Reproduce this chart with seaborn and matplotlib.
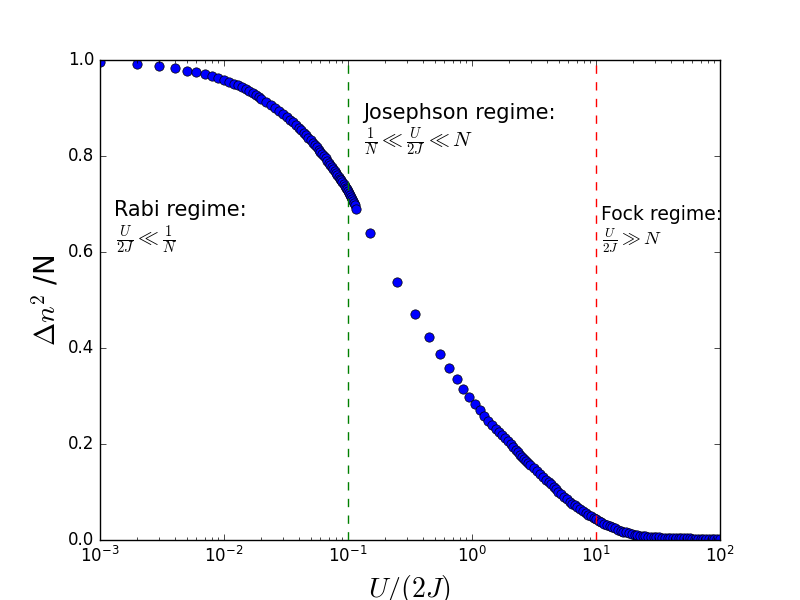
import matplotlib
matplotlib.use('Agg')
import matplotlib.pyplot as plt
import seaborn as sns
import pandas as pd

# small U/2J sweep (fine grid)
x_small = [0.001, 0.002, 0.003, 0.004, 0.005, 0.006, 0.007, 0.008, 0.009, 0.010,
           0.011, 0.012, 0.013, 0.014, 0.015, 0.016, 0.017, 0.018, 0.019, 0.020,
           0.022, 0.024, 0.026, 0.028, 0.030, 0.032, 0.034, 0.036, 0.038, 0.040,
           0.042, 0.044, 0.046, 0.048, 0.050, 0.052, 0.054, 0.056, 0.058, 0.060,
           0.062, 0.064, 0.066, 0.068, 0.070, 0.072, 0.074, 0.076, 0.078, 0.080,
           0.082, 0.084, 0.086, 0.088, 0.090, 0.092, 0.094, 0.096, 0.098, 0.100,
           0.102, 0.104, 0.106, 0.108, 0.110, 0.112, 0.114, 0.116]
y_small = [0.996, 0.991, 0.987, 0.983, 0.978, 0.974, 0.970, 0.966, 0.963, 0.959,
           0.955, 0.951, 0.947, 0.943, 0.939, 0.935, 0.931, 0.927, 0.923, 0.919,
           0.913, 0.906, 0.900, 0.893, 0.887, 0.882, 0.876, 0.870, 0.865, 0.859,
           0.854, 0.848, 0.843, 0.838, 0.833, 0.828, 0.823, 0.818, 0.813, 0.808,
           0.804, 0.799, 0.795, 0.790, 0.786, 0.782, 0.777, 0.773, 0.769, 0.764,
           0.760, 0.756, 0.753, 0.749, 0.745, 0.742, 0.738, 0.734, 0.731, 0.727,
           0.723, 0.719, 0.715, 0.711, 0.707, 0.702, 0.697, 0.690]

# large U/2J sweep (coarse grid)
x_large = [0.15, 0.25, 0.35, 0.45, 0.55, 0.65, 0.75, 0.85, 0.95, 1.05,
           1.15, 1.25, 1.35, 1.45, 1.55, 1.65, 1.75, 1.85, 1.95, 2.05,
           2.15, 2.25, 2.35, 2.45, 2.55, 2.65, 2.75, 2.85, 2.95, 3.15,
           3.35, 3.55, 3.75, 3.95, 4.15, 4.35, 4.55, 4.75, 4.95, 5.25,
           5.55, 5.85, 6.15, 6.45, 6.75, 7.05, 7.45, 7.85, 8.25, 8.65,
           9.05, 9.55, 10.05, 10.55, 11.05, 11.65, 12.25, 12.85, 13.55, 14.25,
           15.05, 15.85, 16.65, 17.55, 18.45, 19.45, 20.45, 21.55, 22.65, 23.85,
           25.05, 26.35, 27.75, 29.25, 30.75, 32.35, 34.05, 35.85, 37.75, 39.75,
           41.85, 44.05, 46.35, 48.75, 51.35, 54.05, 56.85, 59.85, 62.95, 66.25,
           69.75, 73.45, 77.25, 81.35, 85.55, 90.05, 94.75, 99.75]
y_large = [0.640, 0.537, 0.470, 0.423, 0.388, 0.358, 0.335, 0.315, 0.298, 0.283,
           0.271, 0.258, 0.248, 0.239, 0.231, 0.224, 0.218, 0.212, 0.206, 0.200,
           0.194, 0.188, 0.183, 0.178, 0.173, 0.169, 0.165, 0.161, 0.157, 0.150,
           0.143, 0.137, 0.131, 0.126, 0.121, 0.116, 0.111, 0.106, 0.101, 0.095,
           0.090, 0.085, 0.080, 0.075, 0.072, 0.068, 0.064, 0.060, 0.056, 0.053,
           0.050, 0.046, 0.043, 0.040, 0.037, 0.034, 0.032, 0.029, 0.027, 0.024,
           0.021, 0.019, 0.017, 0.016, 0.014, 0.012, 0.011, 0.0098, 0.0091, 0.0083,
           0.0075, 0.0071, 0.0066, 0.0062, 0.0057, 0.0054, 0.0052, 0.0050, 0.0047, 0.0045,
           0.0043, 0.0041, 0.0038, 0.0036, 0.0034, 0.0033, 0.0032, 0.0031, 0.0030, 0.0029,
           0.0028, 0.0027, 0.0026, 0.0025, 0.0023, 0.0022, 0.0021, 0.0020]

df = pd.DataFrame({'U2J': x_small + x_large, 'dn2': y_small + y_large})

plt.style.use('classic')
fig, ax = plt.subplots(figsize=(8, 6), dpi=100)
fig.patch.set_facecolor('white')

sns.scatterplot(data=df, x='U2J', y='dn2', ax=ax, color='blue',
                edgecolor='black', linewidth=0.5, s=45, zorder=2)

ax.axvline(0.1, color='g', linestyle='--', zorder=3)
ax.axvline(10, color='r', linestyle='--', zorder=3)

ax.set_xscale('log')
ax.set_xlim(1e-3, 1e2)
ax.set_ylim(0, 1)

ax.set_xlabel('$U/(2J)$', fontsize=20)
ax.set_ylabel(r'$\Delta n^2$ /N', fontsize=20)

ax.text(1.3e-3, 0.688, 'Rabi regime:', fontsize=15, va='center')
ax.text(1.35e-3, 0.625, r'$\frac{U}{2J} \ll \frac{1}{N}$', fontsize=15, va='center')
ax.text(0.132, 0.889, 'Josephson regime:', fontsize=15, va='center')
ax.text(0.135, 0.830, r'$\frac{1}{N} \ll \frac{U}{2J} \ll N$', fontsize=15, va='center')
ax.text(10.9, 0.679, 'Fock regime:', fontsize=13.5, va='center')
ax.text(11.2, 0.623, r'$\frac{U}{2J} \gg N$', fontsize=13.5, va='center')

plt.savefig('out.png', dpi=100, facecolor='white')
